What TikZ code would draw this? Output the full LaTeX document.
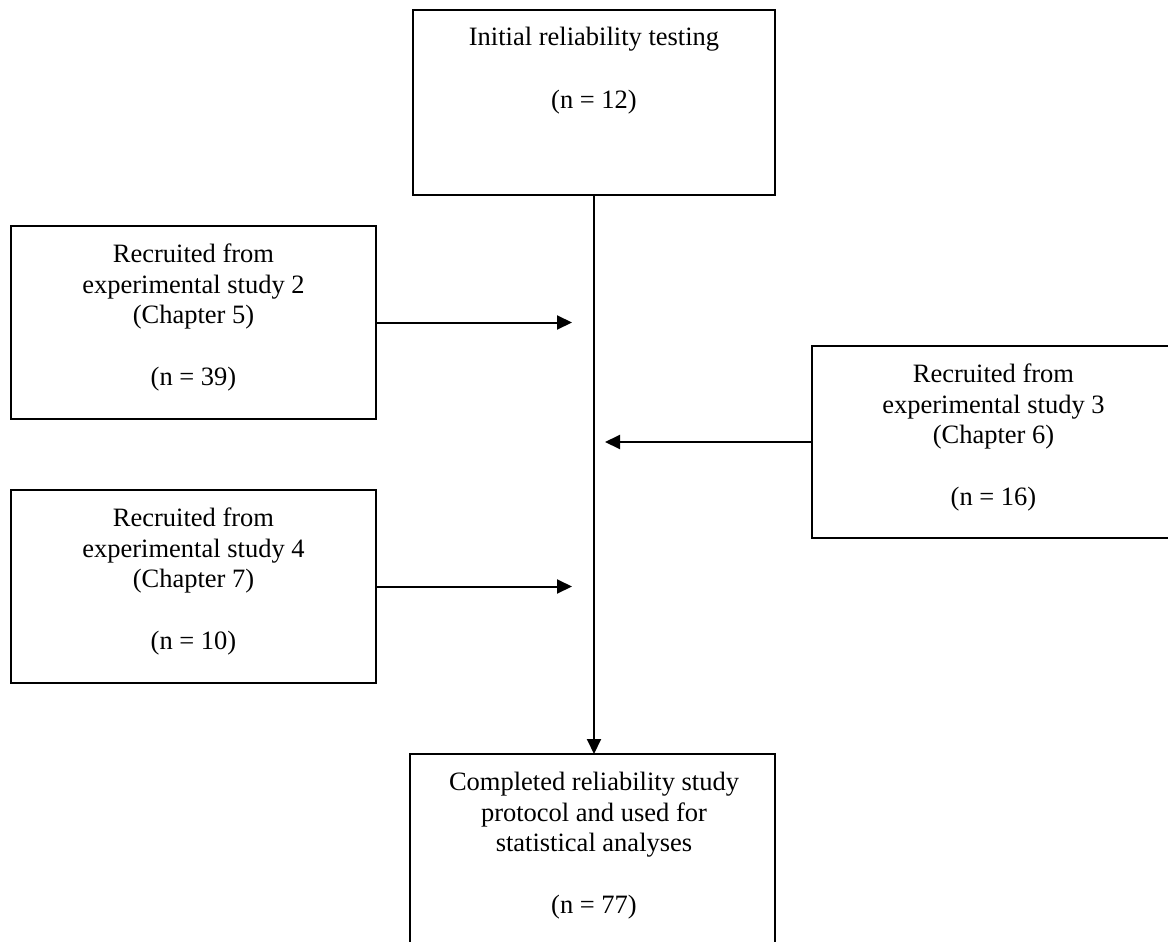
\documentclass[tikz,border=0pt]{standalone}
\usepackage{fontspec}
\setmainfont{Liberation Serif}
\usetikzlibrary{arrows.meta}
\begin{document}
\begin{tikzpicture}[x=1pt,y=-1pt,
  box/.style={draw=black, line width=2.8pt, inner sep=0pt, outer sep=0pt, anchor=north west},
  txt/.style={align=center, inner sep=0pt, anchor=north, font=\fontsize{26.5}{30.5}\selectfont},
  conn/.style={line width=2pt, -{Triangle[length=15pt,width=14pt]}}]
\clip (0,0) rectangle (1168,942);
\fill[white] (0,0) rectangle (1168,942);
% boxes
\node[box, minimum width=362pt, minimum height=185pt] (init) at (413,10) {};
\node[box, minimum width=365pt, minimum height=193pt] (s2) at (11,226) {};
\node[box, minimum width=365pt, minimum height=193pt] (s4) at (11,490) {};
\node[box, minimum width=363pt, minimum height=192pt] (s3) at (812,346) {};
\node[box, minimum width=365pt, minimum height=195pt] (done) at (410,754) {};
% texts
\node[txt] (initT) at (594,27) {Initial reliability testing\\[32pt](n = 12)};
\node[txt] (s2T) at (193.5,244) {Recruited from\\experimental study 2\\(Chapter 5)\\[31pt](n = 39)};
\node[txt] (s4T) at (193.5,508) {Recruited from\\experimental study 4\\(Chapter 7)\\[31pt](n = 10)};
\node[txt] (s3T) at (993.5,364) {Recruited from\\experimental study 3\\(Chapter 6)\\[31pt](n = 16)};
\node[txt] (doneT) at (594,772) {Completed reliability study\\protocol and used for\\statistical analyses\\[31pt](n = 77)};
% connector end points
\coordinate (e2) at (572,322.5);
\coordinate (e3) at (605,442);
\coordinate (e4) at (572,586.5);
% connectors
\draw[conn] (init.south) -- (init.south |- done.north);
\draw[conn] (s2.east) -- (s2.east -| e2);
\draw[conn] (s3.west) -- (s3.west -| e3);
\draw[conn] (s4.east) -- (s4.east -| e4);
\end{tikzpicture}
\end{document}
